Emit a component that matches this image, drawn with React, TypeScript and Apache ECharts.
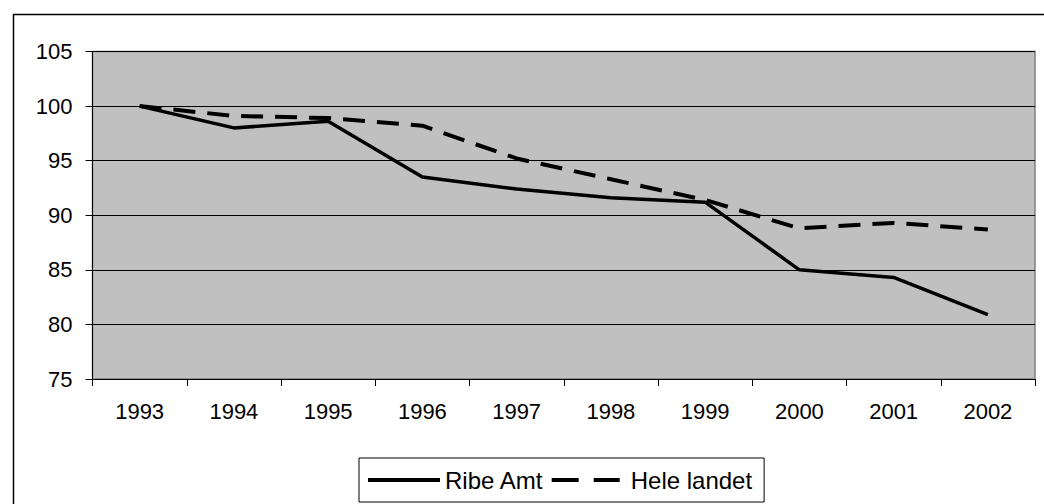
import React, { useEffect, useRef } from "react";
import * as echarts from "echarts";

const years = ["1993", "1994", "1995", "1996", "1997", "1998", "1999", "2000", "2001", "2002"];
const ribeAmt = [100, 98.0, 98.6, 93.5, 92.4, 91.6, 91.2, 85.0, 84.3, 80.9];
const heleLandet = [100, 99.1, 98.9, 98.2, 95.2, 93.3, 91.4, 88.8, 89.3, 88.7];
const seriesNames = ["Ribe Amt", "Hele landet"];

const FONT = "'Liberation Sans', Arial, sans-serif";

const SOLID_ICON = "path://M0,0 H72 V4 H0 Z";
const DASH_ICON = "path://M0,0 H27 V4 H0 Z M42,0 H68 V4 H42 Z";

export default function App() {
  const ref = useRef<HTMLDivElement>(null);
  useEffect(() => {
    if (!ref.current) return;
    const chart = echarts.init(ref.current, undefined, { renderer: "svg" });
    chart.setOption({
      animation: false,
      backgroundColor: "#ffffff",
      textStyle: { fontFamily: FONT, color: "#000" },
      graphic: [
        {
          type: "rect",
          left: 11,
          top: 12,
          shape: { x: 0, y: 0, width: 1100, height: 600 },
          style: { fill: "none", stroke: "#000", lineWidth: 1.5 },
          z: 0,
          silent: true,
        },
      ],
      grid: {
        left: 92.5,
        top: 51.5,
        right: 9,
        bottom: 125,
        show: true,
        backgroundColor: "#c0c0c0",
        borderColor: "#808080",
        borderWidth: 1.5,
        containLabel: false,
      },
      legend: {
        left: 359,
        top: 458,
        orient: "horizontal",
        data: [
          { name: seriesNames[0], icon: SOLID_ICON },
          { name: seriesNames[1], icon: DASH_ICON, textStyle: { padding: [0, 0, 0, 4] } },
        ],
        itemStyle: { color: "#000", borderWidth: 0 },
        lineStyle: { width: 0 },
        borderColor: "#000",
        borderWidth: 1,
        borderRadius: 0,
        padding: [10, 12, 10, 9],
        itemWidth: 72,
        itemHeight: 4,
        itemGap: 8,
        textStyle: { fontFamily: FONT, fontSize: 24, color: "#000" },
      },
      xAxis: {
        type: "category",
        data: years,
        boundaryGap: true,
        axisLine: { show: true, lineStyle: { color: "#000", width: 1 } },
        axisTick: { show: true, inside: false, length: 7, lineStyle: { color: "#000" } },
        axisLabel: { fontFamily: FONT, fontSize: 22, color: "#000", margin: 21 },
        splitLine: { show: false },
      },
      yAxis: {
        type: "value",
        min: 75,
        max: 105,
        interval: 5,
        axisLine: { show: true, lineStyle: { color: "#000", width: 1 } },
        axisTick: { show: true, inside: false, length: 7, lineStyle: { color: "#000" } },
        axisLabel: { fontFamily: FONT, fontSize: 22, color: "#000", margin: 20 },
        splitLine: { show: true, lineStyle: { color: "#000", width: 1 } },
      },
      series: [
        {
          name: seriesNames[0],
          type: "line",
          data: ribeAmt,
          symbol: "none",
          showSymbol: false,
          color: "#000",
          lineStyle: { color: "#000", width: 3.5, type: "solid" },
        },
        {
          name: seriesNames[1],
          type: "line",
          data: heleLandet,
          symbol: "none",
          showSymbol: false,
          color: "#000",
          lineStyle: { color: "#000", width: 4, type: [22, 12] },
        },
      ],
    });
    return () => chart.dispose();
  }, []);
  return (
    <div
      ref={ref}
      style={{ position: "fixed", left: 0, top: 0, width: 1044, height: 504 }}
    />
  );
}
